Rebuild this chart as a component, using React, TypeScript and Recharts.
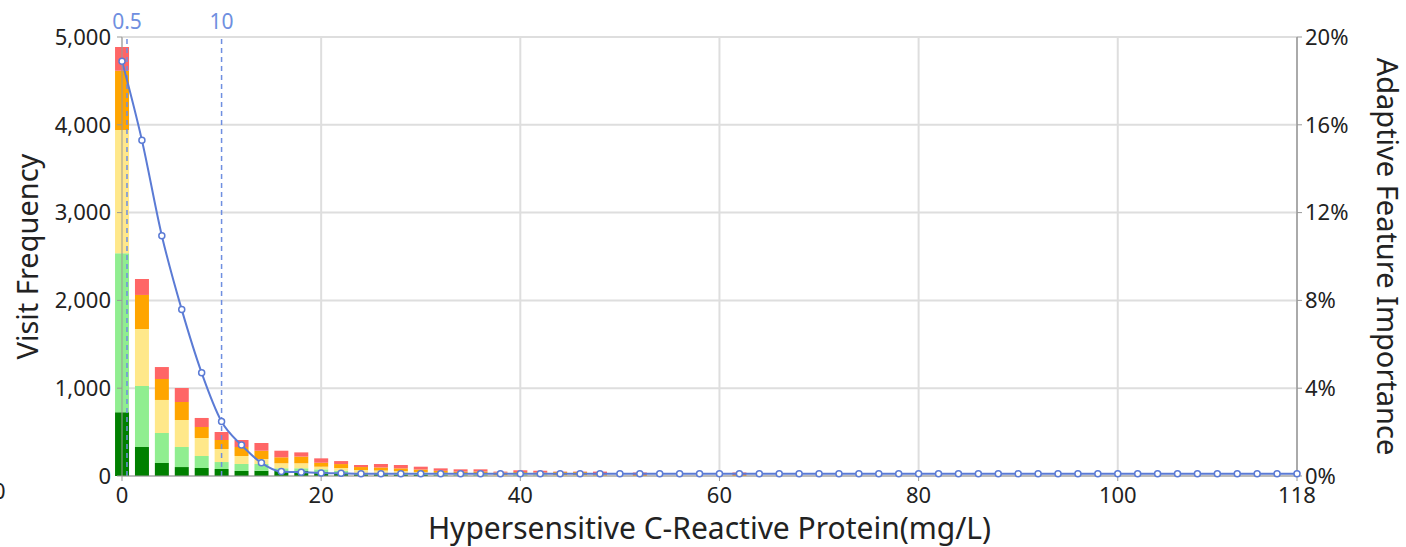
import React from "react";
import {
  ComposedChart,
  Bar,
  Line,
  XAxis,
  YAxis,
  CartesianGrid,
  ReferenceLine,
} from "recharts";

// bin centres (mg/L), one per 2 mg/L
const binCentres = [
  0, 2, 4, 6, 8, 10, 12, 14, 16, 18, 20, 22, 24, 26, 28, 30, 32, 34, 36, 38,
  40, 42, 44, 46, 48, 50, 52, 54, 56, 58, 60, 62, 64, 66, 68, 70, 72, 74, 76,
  78, 80, 82, 84, 86, 88, 90, 92, 94, 96, 98, 100, 102, 104, 106, 108, 110,
  112, 114, 116, 118,
];

// stacked visit counts per bin, bottom to top (bins past the list are 0)
const darkGreen = [725, 330, 148, 102, 91, 80, 57, 60, 57, 57, 45, 34, 19, 20, 15, 12, 8, 6, 6, 0, 5, 3];
const lightGreen = [1811, 695, 342, 228, 137, 79, 80, 77, 31, 31, 31, 26, 18, 15, 15, 12, 10, 8, 8, 0, 5, 5];
const yellow = [1405, 649, 376, 308, 205, 148, 91, 57, 57, 57, 30, 31, 31, 27, 25, 22, 18, 16, 15, 10, 15, 15, 10, 10, 5];
const orange = [675, 388, 239, 205, 125, 103, 102, 94, 68, 76, 45, 45, 34, 35, 32, 28, 23, 20, 22, 30, 20, 17, 35, 35, 10, 0, 10, 0, 0, 0, 0, 10];
const red = [270, 182, 136, 159, 103, 91, 80, 88, 75, 48, 50, 34, 23, 40, 38, 32, 28, 26, 25, 10, 20, 20, 5, 5, 35, 0, 30, 0, 0, 0, 0, 30];

// adaptive feature importance (%) at each bin centre
const importance = [
  18.9, 15.3, 10.95, 7.58, 4.7, 2.48, 1.41, 0.6, 0.2, 0.17, 0.14, 0.12, 0.1,
  0.1, 0.1, 0.1, 0.1, 0.1, 0.1, 0.1, 0.1, 0.1, 0.1, 0.1, 0.1, 0.1, 0.1, 0.1,
  0.1, 0.1, 0.1, 0.1, 0.1, 0.1, 0.1, 0.1, 0.1, 0.1, 0.1, 0.1, 0.1, 0.1, 0.1,
  0.1, 0.1, 0.1, 0.1, 0.1, 0.1, 0.1, 0.1, 0.1, 0.1, 0.1, 0.1, 0.1, 0.1, 0.1,
  0.1, 0.1,
];

const xTicks = [0, 20, 40, 60, 80, 100, 118];
const leftTicks = [0, 1000, 2000, 3000, 4000, 5000];
const rightTicks = [0, 4, 8, 12, 16, 20];
const cutoffs = [0.5, 10];

const data = binCentres.map((x, i) => ({
  x,
  dg: darkGreen[i] ?? 0,
  lg: lightGreen[i] ?? 0,
  ye: yellow[i] ?? 0,
  or: orange[i] ?? 0,
  rd: red[i] ?? 0,
  imp: importance[i],
}));

const font = "'Noto Sans', sans-serif";
const tickStyle = { fontSize: 22, fill: "#222", fontFamily: font };
const titleStyle = { fontSize: 29, fill: "#222", fontFamily: font };
const refColor = "#6F8FE0";
const lineColor = "#5B7BD5";

export default function App() {
  return (
    <div style={{ position: "absolute", left: 0, top: 0, width: 1406, height: 547, background: "#fff", overflow: "hidden" }}>
      <span
        style={{ position: "absolute", left: -7, top: 477, fontSize: 22, fontFamily: font, color: "#222", lineHeight: "26px" }}
      >
        0
      </span>
      <ComposedChart
        width={1406}
        height={547}
        data={data}
        margin={{ top: 37, right: 0, left: 0, bottom: 0 }}
      >
        <CartesianGrid stroke="#dedede" strokeWidth={2} yAxisId="left" />
        <XAxis
          dataKey="x"
          type="number"
          domain={[0, 118]}
          ticks={xTicks}
          height={71}
          tick={tickStyle}
          tickLine={{ stroke: "#999" }}
          axisLine={{ stroke: "#999" }}
          tickSize={5}
          tickMargin={6}
          interval={0}
          label={{ value: "Hypersensitive C-Reactive Protein(mg/L)", position: "insideBottom", offset: 8, ...titleStyle, fontSize: 30 }}
        />
        <YAxis
          yAxisId="left"
          domain={[0, 5000]}
          ticks={leftTicks}
          width={122}
          tick={tickStyle}
          tickFormatter={(v: number) => v.toLocaleString("en-US")}
          tickLine={{ stroke: "#999" }}
          axisLine={{ stroke: "#999" }}
          tickSize={5}
          tickMargin={6}
          label={{ value: "Visit Frequency", angle: -90, position: "insideLeft", offset: 28, ...titleStyle, style: { textAnchor: "middle" } }}
        />
        <YAxis
          yAxisId="right"
          orientation="right"
          domain={[0, 20]}
          ticks={rightTicks}
          width={109}
          tick={tickStyle}
          tickFormatter={(v: number) => `${v}%`}
          tickLine={{ stroke: "#999" }}
          axisLine={{ stroke: "#999", strokeWidth: 1.5 }}
          tickSize={5}
          tickMargin={3}
          label={{ value: "Adaptive Feature Importance", angle: 90, position: "insideRight", offset: 19, ...titleStyle, style: { textAnchor: "middle" } }}
        />
        <Bar yAxisId="left" dataKey="dg" stackId="a" fill="#008000" barSize={14} isAnimationActive={false} />
        <Bar yAxisId="left" dataKey="lg" stackId="a" fill="#90EE90" barSize={14} isAnimationActive={false} />
        <Bar yAxisId="left" dataKey="ye" stackId="a" fill="#FFE88A" barSize={14} isAnimationActive={false} />
        <Bar yAxisId="left" dataKey="or" stackId="a" fill="#FFA500" barSize={14} isAnimationActive={false} />
        <Bar yAxisId="left" dataKey="rd" stackId="a" fill="#FF6666" barSize={14} isAnimationActive={false} />
        {cutoffs.map((c) => (
          <ReferenceLine
            key={c}
            yAxisId="left"
            x={c}
            stroke={refColor}
            strokeDasharray="5 4"
            strokeWidth={1.5}
            label={{ value: String(c), position: "top", offset: 8, fill: refColor, fontSize: 21, fontFamily: font }}
          />
        ))}
        <Line
          yAxisId="right"
          dataKey="imp"
          type="monotone"
          stroke={lineColor}
          strokeWidth={2}
          dot={{ r: 3, stroke: lineColor, strokeWidth: 1.5, fill: "#fff" }}
          isAnimationActive={false}
        />
      </ComposedChart>
    </div>
  );
}
